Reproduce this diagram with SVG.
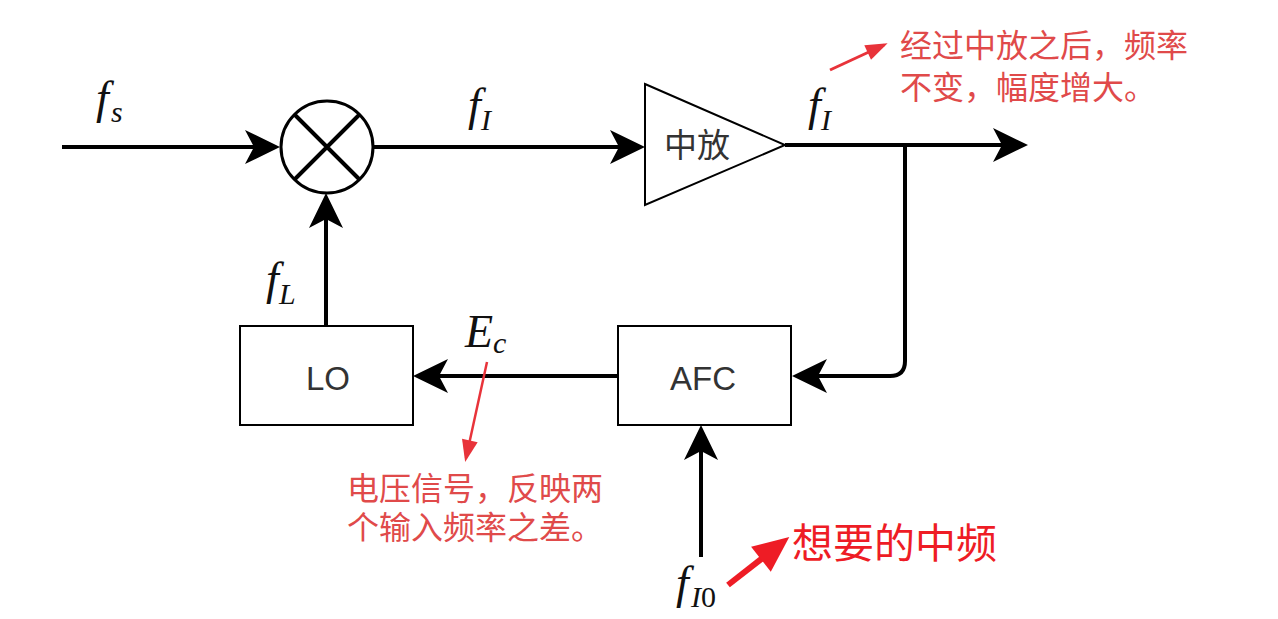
<svg xmlns="http://www.w3.org/2000/svg" width="1278" height="619" viewBox="0 0 1278 619">
<style>
.ln{fill:none;stroke:#000;stroke-width:4}
.box{fill:#fff;stroke:#000;stroke-width:2}
.lbl{font-family:"Liberation Sans",Arial,sans-serif;font-size:33px;fill:#333}
.cn{font-family:"Liberation Sans","Noto Sans CJK SC",sans-serif;font-size:33px;fill:#333}
.m{font-family:"Liberation Serif","Times New Roman",serif;font-style:italic;font-size:46px;fill:#111}
.sb{font-size:30px}
.ann{font-family:"Noto Sans CJK SC",sans-serif;font-size:32px;fill:#e04a4a}
.big{font-family:"Noto Sans CJK SC",sans-serif;font-size:41px;fill:#ee1c25}
.rl{fill:none;stroke:#e8333a}
</style>
<defs>
<marker id="ah" markerUnits="userSpaceOnUse" markerWidth="40" markerHeight="40" viewBox="0 0 40 40" refX="29" refY="20" orient="auto">
<path d="M2,3 L37,20 L2,37 L11,20 Z" fill="#000"/>
</marker>
<marker id="rh" markerUnits="userSpaceOnUse" markerWidth="30" markerHeight="30" viewBox="0 0 30 30" refX="20" refY="15" orient="auto">
<path d="M2,7 L24,15 L2,23 Z" fill="#e8333a"/>
</marker>
<marker id="rh2" markerUnits="userSpaceOnUse" markerWidth="50" markerHeight="50" viewBox="0 0 50 50" refX="30" refY="25" orient="auto">
<path d="M2,9 L38,25 L2,41 Z" fill="#ee1c25"/>
</marker>
</defs>
<g id="connectors">
<path class="ln" d="M62,147 H272" marker-end="url(#ah)"/>
<path class="ln" d="M373,147 H637" marker-end="url(#ah)"/>
<path class="ln" d="M785,145 H1020" marker-end="url(#ah)"/>
<path class="ln" d="M905,145 V361 Q905,376 890,376 H800" marker-end="url(#ah)"/>
<path class="ln" d="M618,376 H421" marker-end="url(#ah)"/>
<path class="ln" d="M326,325 V201" marker-end="url(#ah)"/>
<path class="ln" d="M701,557 V433" marker-end="url(#ah)"/>
</g>
<g id="mixer">
<circle cx="327" cy="147" r="46" fill="#fff" stroke="#000" stroke-width="3"/>
<path d="M294.5,114.5 L359.5,179.5 M359.5,114.5 L294.5,179.5" stroke="#000" stroke-width="4"/>
</g>
<g id="amp">
<path d="M645,84 L785,145 L645,205 Z" class="box"/>
<text class="cn" x="697" y="157" text-anchor="middle">中放</text>
</g>
<g id="lo">
<rect class="box" x="240" y="326" width="173" height="99"/>
<text class="lbl" x="328" y="390" text-anchor="middle">LO</text>
</g>
<g id="afc">
<rect class="box" x="618" y="326" width="173" height="99"/>
<text class="lbl" x="703" y="390" text-anchor="middle">AFC</text>
</g>
<g id="labels">
<text class="m" x="96" y="113">f<tspan class="sb" x="111" y="122" font-size="33">s</tspan></text>
<text class="m" x="468" y="120">f<tspan class="sb" x="481" y="130">I</tspan></text>
<text class="m" x="808" y="120">f<tspan class="sb" x="821" y="130">I</tspan></text>
<text class="m" x="266" y="294">f<tspan class="sb" x="279" y="304">L</tspan></text>
<text class="m" x="465" y="347" font-size="44">E<tspan class="sb" x="493" y="353" font-size="32">c</tspan></text>
<text class="m" x="676" y="598">f<tspan class="sb" x="691" y="607">I</tspan><tspan class="sb" font-style="normal">0</tspan></text>
</g>
<g id="annotations">
<path class="rl" stroke-width="3" d="M830,70 L884,45" marker-end="url(#rh)"/>
<text class="ann" x="900" y="57">经过中放之后，频率</text>
<text class="ann" x="900" y="99">不变，幅度增大。</text>
<path class="rl" stroke-width="2.5" d="M487,362 L466,458" marker-end="url(#rh)"/>
<text class="ann" x="347" y="500">电压信号，反映两</text>
<text class="ann" x="347" y="539">个输入频率之差。</text>
<path d="M728,585 L783,542" stroke="#ee1c25" stroke-width="6" fill="none" marker-end="url(#rh2)"/>
<text class="big" x="792" y="558">想要的中频</text>
</g>
</svg>
